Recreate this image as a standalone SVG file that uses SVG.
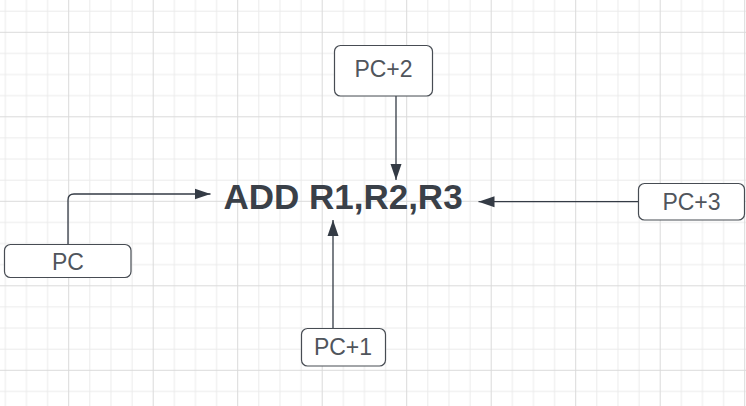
<svg xmlns="http://www.w3.org/2000/svg" width="746" height="406" viewBox="0 0 746 406">
  <defs>
    <pattern id="grid" patternUnits="userSpaceOnUse" x="68.2" y="31.8" width="84.5" height="84.5">
      <path d="M21.625 0V84.5M42.75 0V84.5M63.875 0V84.5M0 21.625H84.5M0 42.75H84.5M0 63.875H84.5" stroke="#ebebeb" stroke-width="1" fill="none"/>
      <path d="M0.5 0V84.5M0 0.5H84.5" stroke="#dadada" stroke-width="1" fill="none"/>
    </pattern>
    <marker id="arrow" markerUnits="userSpaceOnUse" markerWidth="17" markerHeight="12" refX="16" refY="6" orient="auto">
      <path d="M0 0.5L16 6L0 11.5Z" fill="#343b45"/>
    </marker>
    <style>
      .box { fill: #ffffff; stroke: #474c53; stroke-width: 1.2; }
      .lbl { font-family: "Liberation Sans", Arial, sans-serif; font-size: 23px; fill: #50555c; text-anchor: middle; }
      .main { font-family: "Liberation Sans", Arial, sans-serif; font-size: 35px; font-weight: bold; fill: #3a4048; text-anchor: middle; }
      .conn { fill: none; stroke: #343b45; stroke-width: 1.3; }
    </style>
  </defs>
  <rect width="746" height="406" fill="#ffffff"/>
  <rect width="746" height="406" fill="url(#grid)"/>

  <g id="connectors">
    <path class="conn" d="M68 244V200Q68 194 74 194H210.5" marker-end="url(#arrow)"/>
    <path class="conn" d="M396 96V180" marker-end="url(#arrow)"/>
    <path class="conn" d="M638 201.7H478.5" marker-end="url(#arrow)"/>
    <path class="conn" d="M333 328V220" marker-end="url(#arrow)"/>
  </g>

  <g id="node-main">
    <text class="main" x="343" y="208.5">ADD R1,R2,R3</text>
  </g>
  <g id="node-pc">
    <rect class="box" x="4.5" y="244.5" width="126.5" height="33" rx="6"/>
    <text class="lbl" x="68" y="270">PC</text>
  </g>
  <g id="node-pc2">
    <rect class="box" x="334.5" y="45.5" width="98" height="50.5" rx="6"/>
    <text class="lbl" x="383.5" y="77">PC+2</text>
  </g>
  <g id="node-pc3">
    <rect class="box" x="638.5" y="183.5" width="106" height="36.5" rx="6"/>
    <text class="lbl" x="691.5" y="209.5">PC+3</text>
  </g>
  <g id="node-pc1">
    <rect class="box" x="301.5" y="328.5" width="84" height="37.5" rx="6"/>
    <text class="lbl" x="343" y="354.5">PC+1</text>
  </g>
</svg>
